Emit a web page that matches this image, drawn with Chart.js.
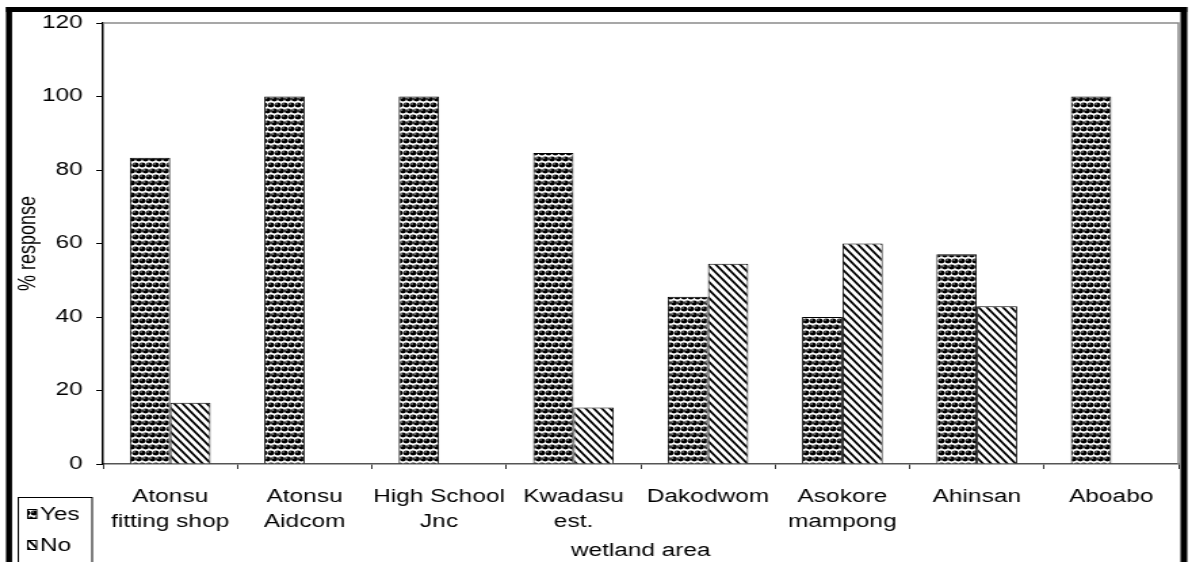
<!DOCTYPE html>
<html>
<head>
<meta charset="utf-8">
<script src="https://cdn.jsdelivr.net/npm/chart.js@4.4.1/dist/chart.umd.min.js"></script>
<style>
  html, body { margin: 0; padding: 0; background: #fff; }
  /* the original picture is stretched sideways, so the canvas is drawn narrow and widened */
  #chart { width: 1192px; height: 562px; }
</style>
</head>
<body>
<canvas id="chart" width="880" height="562" style="width:1192px;height:562px"></canvas>
<script>
// wetland areas (each entry is the lines of one axis label)
const areas = [
    ['Atonsu', 'fitting shop'],
    ['Atonsu', 'Aidcom'],
    ['High School', 'Jnc'],
    ['Kwadasu', 'est.'],
    ['Dakodwom', ''],
    ['Asokore', 'mampong'],
    ['Ahinsan', ''],
    ['Aboabo', '']
];
const yesValues = [83.3, 100, 100, 84.6, 45.5, 40, 57.1, 100];
const noValues = [16.7, 0, 0, 15.4, 54.5, 60, 42.9, 0];
const yTicks = [0, 20, 40, 60, 80, 100, 120];

const FONT = '"Liberation Sans", Arial, sans-serif';

function dotPattern() {
    const c = document.createElement('canvas');
    c.width = 10; c.height = 12;
    const g = c.getContext('2d');
    g.fillStyle = '#fff';
    g.fillRect(0, 0, 10, 12);
    const spots = [[2.5, 3], [7.5, 3], [0, 9], [5, 9], [10, 9]];
    spots.forEach(function(p) {
        g.fillStyle = '#000';
        g.beginPath();
        g.arc(p[0], p[1], 2.45, 0, Math.PI * 2);
        g.fill();
        g.fillStyle = '#aaa';
        g.beginPath();
        g.arc(p[0] - 0.9, p[1] - 1, 0.8, 0, Math.PI * 2);
        g.fill();
    });
    return g.createPattern(c, 'repeat');
}

function stripePattern() {
    const c = document.createElement('canvas');
    c.width = 6; c.height = 8;
    const g = c.getContext('2d');
    g.fillStyle = '#fff';
    g.fillRect(0, 0, 6, 8);
    g.strokeStyle = '#000';
    g.lineWidth = 1.8;
    g.beginPath();
    g.moveTo(-6, -8); g.lineTo(12, 16);
    g.moveTo(0, -8); g.lineTo(18, 16);
    g.moveTo(-12, -8); g.lineTo(6, 16);
    g.stroke();
    return g.createPattern(c, 'repeat');
}

const yesFill = dotPattern();
const noFill = stripePattern();

// black picture frame and grey plot border
const framePlugin = {
    id: 'frame',
    afterDraw(chart) {
        const ctx = chart.ctx;
        const a = chart.chartArea;
        ctx.save();
        ctx.strokeStyle = '#8a8a8a';
        ctx.lineWidth = 1.5;
        ctx.beginPath();
        ctx.moveTo(a.left, a.top);
        ctx.lineTo(a.right, a.top);
        ctx.lineTo(a.right, a.bottom);
        ctx.stroke();
        ctx.fillStyle = '#000';
        ctx.fillRect(4.4, 7, 4.5, 562);
        ctx.fillRect(4.4, 7, 872, 5);
        ctx.fillRect(871.5, 7, 5, 562);
        ctx.restore();
    }
};

// boxed legend in the lower left corner
const boxLegend = {
    id: 'boxLegend',
    afterDraw(chart) {
        const ctx = chart.ctx;
        ctx.save();
        ctx.strokeStyle = '#000';
        ctx.lineWidth = 1;
        ctx.strokeRect(13.5, 497.5, 54.5, 80);
        const rows = [514, 545];
        chart.data.datasets.forEach(function(ds, i) {
            const y = rows[i];
            ctx.fillStyle = ds.backgroundColor;
            ctx.fillRect(20, y - 5, 7, 10);
            ctx.strokeRect(20.5, y - 4.5, 6.5, 9);
            ctx.fillStyle = '#000';
            ctx.font = '18px ' + FONT;
            ctx.textBaseline = 'middle';
            ctx.textAlign = 'left';
            ctx.fillText(ds.label, 29.5, y + 1);
        });
        ctx.restore();
    }
};

new Chart(document.getElementById('chart'), {
    type: 'bar',
    data: {
        labels: areas,
        datasets: [{
            label: 'Yes',
            data: yesValues,
            backgroundColor: yesFill,
            borderColor: '#000',
            borderWidth: 1
        }, {
            label: 'No',
            data: noValues,
            backgroundColor: noFill,
            borderColor: '#000',
            borderWidth: 1
        }]
    },
    options: {
        responsive: false,
        animation: false,
        devicePixelRatio: 1,
        layout: { padding: { left: 8, right: 10, top: 23, bottom: 0 } },
        datasets: { bar: { categoryPercentage: 0.6, barPercentage: 1.0 } },
        plugins: {
            legend: { display: false },
            tooltip: { enabled: false }
        },
        scales: {
            x: {
                afterFit(scale) { scale.height = 98; },
                grid: { drawOnChartArea: false, drawTicks: true, tickLength: 5, offset: true, color: '#333' },
                border: { display: true, color: '#555', width: 1.5 },
                ticks: {
                    color: '#000',
                    font: { family: FONT, size: 18, lineHeight: 1.38 },
                    padding: 16,
                    maxRotation: 0,
                    autoSkip: false
                },
                title: {
                    display: true,
                    text: 'wetland area',
                    color: '#000',
                    font: { family: FONT, size: 18 },
                    padding: { top: 6, bottom: 0 }
                }
            },
            y: {
                min: 0,
                max: 120,
                afterBuildTicks(scale) {
                    scale.ticks = yTicks.map(function(v) { return { value: v }; });
                },
                afterFit(scale) { scale.width = 68; },
                grid: { drawOnChartArea: false, drawTicks: true, tickLength: 5, color: '#000' },
                border: { display: true, color: '#000', width: 1.5 },
                ticks: {
                    color: '#000',
                    font: { family: FONT, size: 18 },
                    padding: 10
                },
                title: {
                    display: true,
                    text: '% response',
                    color: '#000',
                    font: { family: FONT, size: 18 },
                    padding: { top: 2, bottom: 0 }
                }
            }
        }
    },
    plugins: [framePlugin, boxLegend]
});
</script>
</body>
</html>
